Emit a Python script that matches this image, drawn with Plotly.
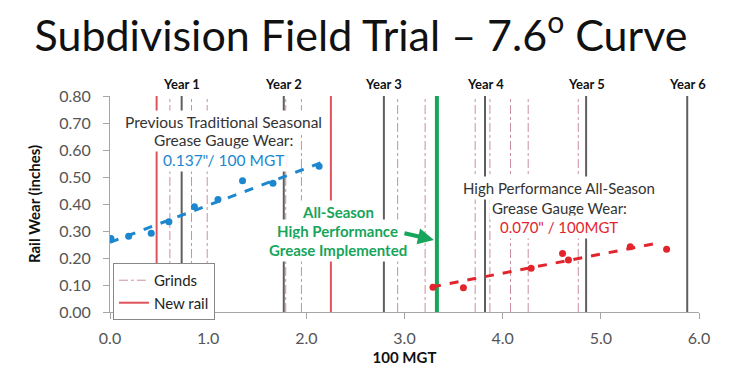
import plotly.graph_objects as go

# ---- data ----
prev_x = [0.01, 0.19, 0.42, 0.60, 0.86, 1.10, 1.35, 1.66, 2.13]
prev_y = [0.272, 0.281, 0.292, 0.334, 0.390, 0.417, 0.486, 0.477, 0.540]
prev_trend_x = [0.0, 2.15]
prev_trend_y = [0.258, 0.553]

hp_x = [3.29, 3.60, 4.29, 4.61, 4.67, 5.30, 5.67]
hp_y = [0.092, 0.090, 0.162, 0.217, 0.193, 0.242, 0.232]
hp_trend_x = [3.28, 5.62]
hp_trend_y = [0.093, 0.258]

year_x = [0.73, 1.77, 2.79, 3.82, 4.85, 5.88]
year_labels = ["Year 1", "Year 2", "Year 3", "Year 4", "Year 5", "Year 6"]
grind_x = [0.61, 0.83, 0.99, 1.79, 1.95, 2.93, 3.21, 3.72, 3.87, 4.08, 4.26, 4.77]
new_rail_x = [0.475, 2.25]
grease_x = 3.33

x_ticks = [0, 1, 2, 3, 4, 5, 6]
x_tick_text = ["0.0", "1.0", "2.0", "3.0", "4.0", "5.0", "6.0"]
y_ticks = [0, 0.1, 0.2, 0.3, 0.4, 0.5, 0.6, 0.7, 0.8]
y_tick_text = ["0.00", "0.10", "0.20", "0.30", "0.40", "0.50", "0.60", "0.70", "0.80"]

prev_text = ["Previous Traditional Seasonal", "Grease Gauge Wear:", "0.137\"/ 100 MGT"]
hp_text = ["High Performance All-Season", "Grease Gauge Wear:", "0.070\" / 100MGT"]
green_text = ["All-Season", "High Performance", "Grease Implemented"]

FONT = "Lato, 'Open Sans', sans-serif"
BLUE = "#1c87cf"
RED = "#e2252d"
RAIL_RED = "#e2525c"
GREEN = "#17a55b"
GRIND = "#c9909f"
YEAR = "#5f5f5f"


def vlines(xs, y0=0.0, y1=0.8):
    xx, yy = [], []
    for v in xs:
        xx += [v, v, None]
        yy += [y0, y1, None]
    return xx, yy


fig = go.Figure()

gx, gy = vlines(grind_x)
fig.add_trace(go.Scatter(x=gx, y=gy, mode="lines", name="Grinds",
                         line=dict(color=GRIND, width=1, dash="dashdot")))
rx, ry = vlines(new_rail_x)
fig.add_trace(go.Scatter(x=rx, y=ry, mode="lines", name="New rail",
                         line=dict(color=RAIL_RED, width=2)))
yx, yy = vlines(year_x)
fig.add_trace(go.Scatter(x=yx, y=yy, mode="lines", showlegend=False,
                         line=dict(color=YEAR, width=2)))
fig.add_trace(go.Scatter(x=[grease_x, grease_x], y=[0, 0.8], mode="lines", showlegend=False,
                         line=dict(color=GREEN, width=4)))

fig.add_trace(go.Scatter(x=prev_trend_x, y=prev_trend_y, mode="lines", showlegend=False,
                         line=dict(color=BLUE, width=3, dash="dash")))
fig.add_trace(go.Scatter(x=prev_x, y=prev_y, mode="markers", showlegend=False,
                         marker=dict(color=BLUE, size=7)))
fig.add_trace(go.Scatter(x=hp_trend_x, y=hp_trend_y, mode="lines", showlegend=False,
                         line=dict(color=RED, width=3, dash="dash")))
fig.add_trace(go.Scatter(x=hp_x, y=hp_y, mode="markers", showlegend=False,
                         marker=dict(color=RED, size=7)))

annotations = []
for xv, lab in zip(year_x, year_labels):
    annotations.append(dict(x=xv, y=1.0, xref="x", yref="paper", yanchor="bottom",
                            yshift=2, text="<b>%s</b>" % lab, showarrow=False,
                            font=dict(family=FONT, size=13, color="#111")))


def text_block(lines, cx, ys, colors, size, bold=False):
    for ln, yv, col in zip(lines, ys, colors):
        t = "<b>%s</b>" % ln if bold else ln
        annotations.append(dict(x=cx, y=yv, xref="x", yref="y", showarrow=False,
                                bgcolor="white", borderpad=2, text=t,
                                font=dict(family=FONT, size=size, color=col)))


text_block(prev_text, 1.16, [0.704, 0.636, 0.563], ["#333", "#333", BLUE], 15.5)
text_block(hp_text, 4.575, [0.459, 0.385, 0.315], ["#333", "#333", RED], 15)
text_block(green_text, 2.32, [0.370, 0.300, 0.230], [GREEN] * 3, 15, bold=True)

annotations.append(dict(
    x=3.30, y=0.267, xref="x", yref="y", ax=-31, ay=-7, showarrow=True,
    text="", arrowhead=2, arrowsize=0.8, arrowwidth=4, arrowcolor=GREEN))

fig.update_layout(
    width=746, height=374,
    margin=dict(l=110, r=47, t=96, b=62),
    paper_bgcolor="white", plot_bgcolor="white",
    title=dict(text="Subdivision Field Trial – 7.6<sup>o</sup> Curve",
               x=0.484, xanchor="center", y=0.905, yanchor="middle",
               font=dict(family=FONT, size=43, color="#111")),
    showlegend=True,
    legend=dict(x=0.005, y=0.227, xanchor="left", yanchor="top",
                bgcolor="white", bordercolor="#888", borderwidth=1,
                font=dict(family=FONT, size=15, color="#222"),
                tracegroupgap=0, itemwidth=30),
    annotations=annotations,
    xaxis=dict(range=[0, 6], tickvals=x_ticks, ticktext=x_tick_text, automargin=False,
               showgrid=False, zeroline=False, showline=True, linecolor="#a6a6a6",
               linewidth=1, ticks="outside", ticklen=6, tickcolor="#a6a6a6",
               ticklabelstandoff=6,
               tickfont=dict(family=FONT, size=16, color="#555"),
               title=dict(text="<b>100 MGT</b>", standoff=6,
                          font=dict(family=FONT, size=15, color="#111"))),
    yaxis=dict(range=[0, 0.8], tickvals=y_ticks, ticktext=y_tick_text, automargin=False,
               showgrid=False, zeroline=False, showline=True, linecolor="#a6a6a6",
               linewidth=1, ticks="outside", ticklen=6, tickcolor="#a6a6a6",
               ticklabelstandoff=9,
               tickfont=dict(family=FONT, size=16, color="#555"),
               title=dict(text="<b>Rail Wear (inches)</b>", standoff=14,
                          font=dict(family=FONT, size=15, color="#111"))),
)

fig.write_html("out.html", config={"displayModeBar": False},
               post_script="document.body.style.margin='0px';document.body.style.padding='0px';")
